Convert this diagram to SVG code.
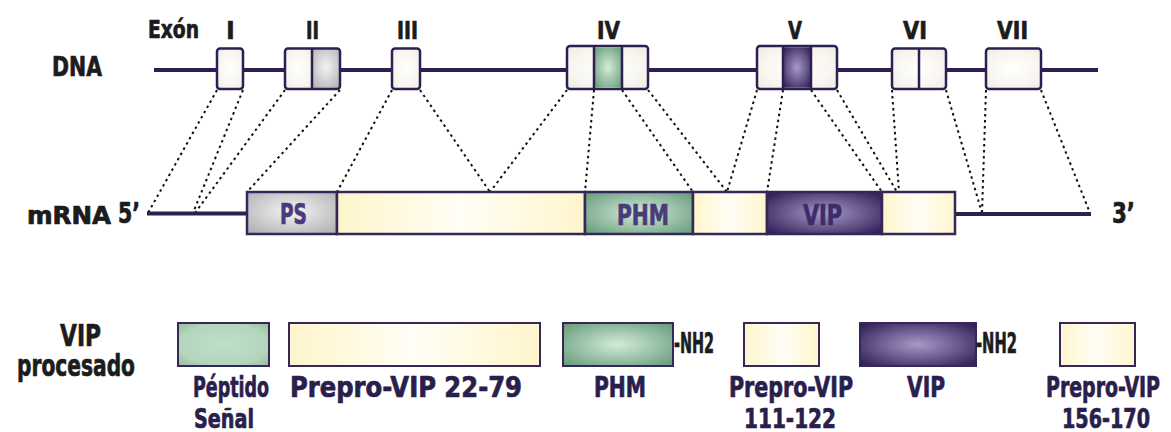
<svg xmlns="http://www.w3.org/2000/svg" width="1171" height="432" viewBox="0 0 1171 432">
  <defs>
    <radialGradient id="gExon" cx="0.5" cy="0.5" r="0.7">
      <stop offset="0" stop-color="#ffffff"/>
      <stop offset="0.6" stop-color="#f8f6f0"/>
      <stop offset="1" stop-color="#eeebe0"/>
    </radialGradient>
    <radialGradient id="gGray" cx="0.5" cy="0.45" r="0.65">
      <stop offset="0" stop-color="#f4f4f4"/>
      <stop offset="1" stop-color="#b4b4b8"/>
    </radialGradient>
    <radialGradient id="gGreen" cx="0.5" cy="0.5" r="0.65">
      <stop offset="0" stop-color="#d4ebd9"/>
      <stop offset="1" stop-color="#6b9f7f"/>
    </radialGradient>
    <radialGradient id="gGreenFlat" cx="0.5" cy="0.5" r="0.7">
      <stop offset="0" stop-color="#c0dfc8"/>
      <stop offset="0.7" stop-color="#b4d4bc"/>
      <stop offset="1" stop-color="#96b9a0"/>
    </radialGradient>
    <radialGradient id="gPurple" cx="0.5" cy="0.5" r="0.65">
      <stop offset="0" stop-color="#a899c9"/>
      <stop offset="1" stop-color="#33225a"/>
    </radialGradient>
    <linearGradient id="gYellow" x1="0" y1="0" x2="1" y2="0">
      <stop offset="0" stop-color="#fff5cc"/>
      <stop offset="0.5" stop-color="#fffef6"/>
      <stop offset="1" stop-color="#fff5cc"/>
    </linearGradient>
    <style>
      text { font-family: "Liberation Sans Narrow", "DejaVu Sans Condensed", "Liberation Sans", sans-serif; font-weight: 700; stroke-width: 0.7; stroke-linejoin: round; }
      .lbl { fill: #1c1c1c; stroke: #1c1c1c; }
      .num { fill: #1c1c1c; stroke: #1c1c1c; font-size: 25px; text-anchor: middle; }
      .seg { fill: #4a3c7a; stroke: #4a3c7a; font-size: 28px; text-anchor: middle; }
      .segv { fill: #3b2c6a; stroke: #3b2c6a; font-size: 28px; text-anchor: middle; }
      .cap { fill: #2a1e4c; stroke: #2a1e4c; font-size: 28px; text-anchor: middle; }
      .cap2 { fill: #2a1e4c; stroke: #2a1e4c; font-size: 27px; text-anchor: middle; }
      .exon { stroke: #2e1f52; stroke-width: 2.5; }
      .div { stroke: #2e1f52; stroke-width: 2.5; }
      .strand { stroke: #2e1f52; stroke-width: 4; fill: none; }
      .mbox { stroke: #35275a; stroke-width: 2.5; }
      .pbox { stroke: #35275a; stroke-width: 2; }
      .dot { stroke: #111; stroke-width: 2; stroke-dasharray: 2.5 3.5; fill: none; }
    </style>
  </defs>

  <rect width="1171" height="432" fill="#ffffff"/>

  <!-- DNA -->
  <g id="dna">
    <text class="lbl" x="52" y="76" font-size="27" textLength="50" lengthAdjust="spacingAndGlyphs">DNA</text>
    <text class="lbl" x="148" y="38" font-size="24" textLength="51" lengthAdjust="spacingAndGlyphs">Exón</text>
    <line class="strand" x1="154" y1="70" x2="1098" y2="70"/>
  </g>

  <g id="exon-I">
    <rect class="exon" x="217" y="48.5" width="26" height="40.5" rx="3" fill="url(#gExon)"/>
    <text class="num" x="230.5" y="39">I</text>
  </g>
  <g id="exon-II">
    <rect x="312" y="48.5" width="28" height="40.5" fill="url(#gGray)"/>
    <rect x="285" y="48.5" width="27" height="40.5" fill="url(#gExon)"/>
    <rect class="exon" x="285" y="48.5" width="55" height="40.5" rx="3" fill="none"/>
    <line class="div" x1="312" y1="48.5" x2="312" y2="89"/>
    <text class="num" x="312.5" y="39" textLength="13" lengthAdjust="spacingAndGlyphs">II</text>
  </g>
  <g id="exon-III">
    <rect class="exon" x="392" y="48.5" width="28" height="40.5" rx="3" fill="url(#gExon)"/>
    <text class="num" x="407.5" y="39" textLength="21" lengthAdjust="spacingAndGlyphs">III</text>
  </g>
  <g id="exon-IV">
    <rect class="exon" x="567" y="46" width="81" height="43" rx="3" fill="url(#gExon)"/>
    <rect x="594" y="47.3" width="28" height="40.4" fill="url(#gGreen)"/>
    <line class="div" x1="594" y1="46" x2="594" y2="89"/>
    <line class="div" x1="622" y1="46" x2="622" y2="89"/>
    <text class="num" x="608.5" y="39" textLength="23" lengthAdjust="spacingAndGlyphs">IV</text>
  </g>
  <g id="exon-V">
    <rect class="exon" x="757" y="46" width="80" height="43" rx="3" fill="url(#gExon)"/>
    <rect x="783" y="47.3" width="28" height="40.4" fill="url(#gPurple)"/>
    <line class="div" x1="783" y1="46" x2="783" y2="89"/>
    <line class="div" x1="811" y1="46" x2="811" y2="89"/>
    <text class="num" x="795" y="39" textLength="14" lengthAdjust="spacingAndGlyphs">V</text>
  </g>
  <g id="exon-VI">
    <rect class="exon" x="892" y="48.5" width="54" height="40.5" rx="3" fill="url(#gExon)"/>
    <line class="div" x1="919" y1="48.5" x2="919" y2="89"/>
    <text class="num" x="915" y="39" textLength="24" lengthAdjust="spacingAndGlyphs">VI</text>
  </g>
  <g id="exon-VII">
    <rect class="exon" x="986" y="48.5" width="55" height="40.5" rx="3" fill="url(#gExon)"/>
    <text class="num" x="1012.5" y="39" textLength="31" lengthAdjust="spacingAndGlyphs">VII</text>
  </g>

  <!-- exon-to-mRNA mapping -->
  <g id="connectors">
    <line class="dot" x1="217" y1="90" x2="148" y2="213"/>
    <line class="dot" x1="243" y1="90" x2="193" y2="213"/>
    <line class="dot" x1="285" y1="90" x2="195" y2="213"/>
    <line class="dot" x1="340" y1="90" x2="247" y2="192"/>
    <line class="dot" x1="392" y1="90" x2="337" y2="192"/>
    <line class="dot" x1="420" y1="90" x2="490" y2="192"/>
    <line class="dot" x1="567" y1="90" x2="490" y2="192"/>
    <line class="dot" x1="594" y1="90" x2="585" y2="192"/>
    <line class="dot" x1="622" y1="90" x2="693" y2="192"/>
    <line class="dot" x1="648" y1="90" x2="727" y2="192"/>
    <line class="dot" x1="757" y1="90" x2="727" y2="192"/>
    <line class="dot" x1="783" y1="90" x2="767" y2="192"/>
    <line class="dot" x1="811" y1="90" x2="882" y2="192"/>
    <line class="dot" x1="837" y1="90" x2="897" y2="192"/>
    <line class="dot" x1="892" y1="90" x2="899" y2="192"/>
    <line class="dot" x1="946" y1="90" x2="982" y2="213"/>
    <line class="dot" x1="986" y1="90" x2="982" y2="213"/>
    <line class="dot" x1="1041" y1="90" x2="1090" y2="213"/>
  </g>

  <!-- mRNA -->
  <g id="mrna">
    <text class="lbl" x="27" y="224" font-size="24" textLength="84" lengthAdjust="spacingAndGlyphs">mRNA</text>
    <text class="lbl" x="118" y="223" font-size="28" textLength="22" lengthAdjust="spacingAndGlyphs">5’</text>
    <text class="lbl" x="1112" y="223" font-size="28" textLength="23" lengthAdjust="spacingAndGlyphs">3’</text>
    <line class="strand" x1="147" y1="213.5" x2="247" y2="213.5"/>
    <line class="strand" x1="955" y1="214" x2="1091" y2="214"/>
  </g>
  <g id="mrna-PS">
    <rect class="mbox" x="247" y="192" width="90" height="42" fill="url(#gGray)"/>
    <text class="seg" x="293.5" y="224" textLength="27" lengthAdjust="spacingAndGlyphs">PS</text>
  </g>
  <g id="mrna-prepro-1">
    <rect class="mbox" x="337" y="192" width="248" height="42" fill="url(#gYellow)"/>
  </g>
  <g id="mrna-PHM">
    <rect class="mbox" x="585" y="192" width="108" height="42" fill="url(#gGreen)"/>
    <text class="seg" x="643" y="225" textLength="52" lengthAdjust="spacingAndGlyphs">PHM</text>
  </g>
  <g id="mrna-prepro-2">
    <rect class="mbox" x="693" y="192" width="74" height="42" fill="url(#gYellow)"/>
  </g>
  <g id="mrna-VIP">
    <rect class="mbox" x="767" y="192" width="115" height="42" fill="url(#gPurple)"/>
    <text class="segv" x="822.5" y="225" textLength="39" lengthAdjust="spacingAndGlyphs">VIP</text>
  </g>
  <g id="mrna-prepro-3">
    <rect class="mbox" x="882" y="192" width="73" height="42" fill="url(#gYellow)"/>
  </g>

  <!-- processed peptides -->
  <g id="processed-label">
    <text class="lbl" x="60" y="346" font-size="31" textLength="41" lengthAdjust="spacingAndGlyphs">VIP</text>
    <text class="lbl" x="17" y="376" font-size="31" textLength="118" lengthAdjust="spacingAndGlyphs">procesado</text>
  </g>
  <g id="peptide-signal">
    <rect class="pbox" x="178" y="323" width="91" height="43" fill="url(#gGreenFlat)"/>
    <text class="cap" x="231" y="397" textLength="76" lengthAdjust="spacingAndGlyphs">Péptido</text>
    <text class="cap2" x="224" y="428" textLength="60" lengthAdjust="spacingAndGlyphs">Señal</text>
  </g>
  <g id="peptide-prepro-22-79">
    <rect class="pbox" x="289" y="323" width="251" height="43" fill="url(#gYellow)"/>
    <text class="cap" x="406" y="397" textLength="232" lengthAdjust="spacingAndGlyphs">Prepro-VIP 22-79</text>
  </g>
  <g id="peptide-PHM">
    <rect class="pbox" x="563" y="323" width="110" height="43" fill="url(#gGreen)"/>
    <text class="lbl" x="674" y="353" font-size="28" textLength="40" lengthAdjust="spacingAndGlyphs">-NH2</text>
    <text class="cap" x="620" y="397" textLength="52" lengthAdjust="spacingAndGlyphs">PHM</text>
  </g>
  <g id="peptide-prepro-111-122">
    <rect class="pbox" x="744" y="323" width="75" height="43" fill="url(#gYellow)"/>
    <text class="cap" x="791" y="397" textLength="124" lengthAdjust="spacingAndGlyphs">Prepro-VIP</text>
    <text class="cap2" x="790" y="428" textLength="92" lengthAdjust="spacingAndGlyphs">111-122</text>
  </g>
  <g id="peptide-VIP">
    <rect class="pbox" x="860" y="323" width="116" height="43" fill="url(#gPurple)"/>
    <text class="lbl" x="976" y="353" font-size="28" textLength="41" lengthAdjust="spacingAndGlyphs">-NH2</text>
    <text class="cap" x="926" y="397" textLength="38" lengthAdjust="spacingAndGlyphs">VIP</text>
  </g>
  <g id="peptide-prepro-156-170">
    <rect class="pbox" x="1060" y="323" width="75" height="43" fill="url(#gYellow)"/>
    <text class="cap" x="1103" y="397" textLength="114" lengthAdjust="spacingAndGlyphs">Prepro-VIP</text>
    <text class="cap2" x="1106" y="428" textLength="88" lengthAdjust="spacingAndGlyphs">156-170</text>
  </g>
</svg>
